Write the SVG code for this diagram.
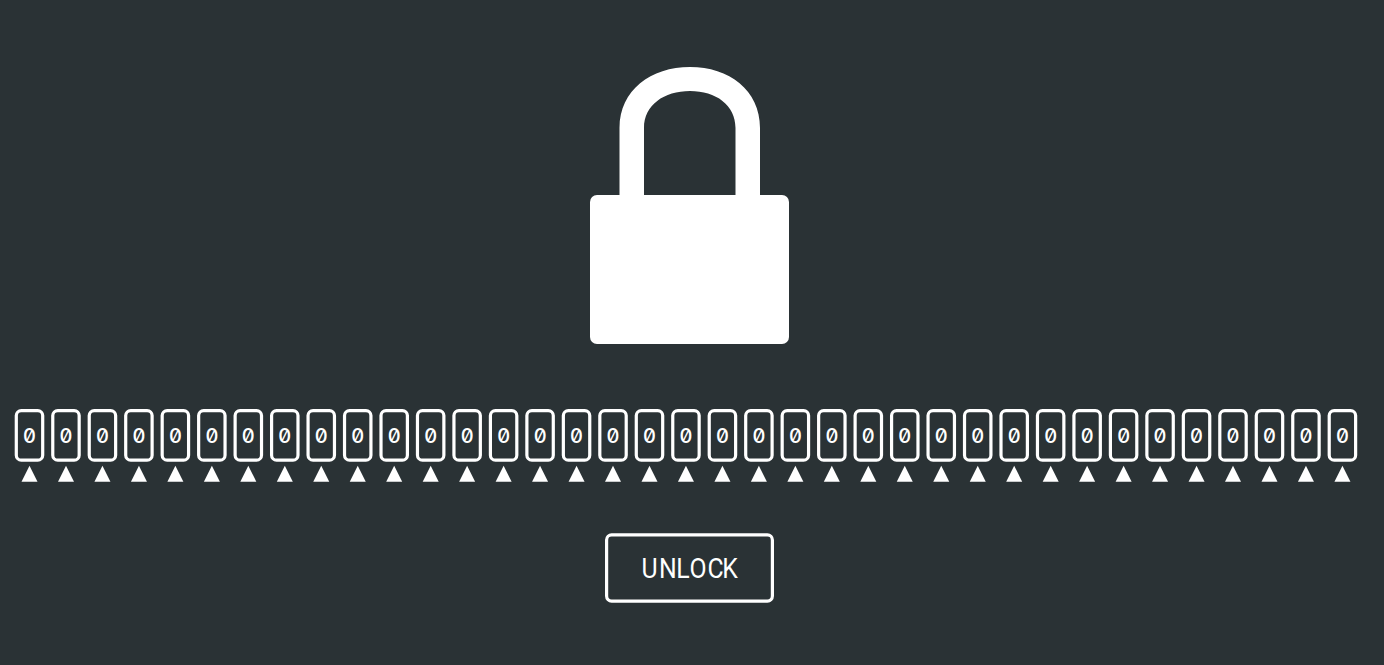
<svg xmlns="http://www.w3.org/2000/svg" width="1384" height="665" viewBox="0 0 1384 665">
<style>
.box{fill:none;stroke:#fff;stroke-width:3.2}
.up{fill:#fff}
.digit{font-family:"Inter","DejaVu Sans Mono",monospace;font-size:20px;font-weight:500;font-feature-settings:"zero" 1;fill:#fff;text-anchor:middle}
.label{font-family:"Roboto",sans-serif;font-size:27px;fill:#fff}
</style>
<defs>
<rect id="cell" class="box" x="-13.2" y="410.6" width="26.4" height="49.6" rx="5"/>
<path id="tri" class="up" d="M0 465.7L8 481.7H-8Z"/>
</defs>
<rect width="1384" height="665" fill="#2a3235"/>
<g id="lock">
<rect x="590" y="195" width="199" height="149" rx="7" fill="#fff"/>
<path fill="#fff" fill-rule="evenodd" d="M619.5 197V128C619.5 90 651 67 690 67S760 90 760 128V197H735.5V128C735.5 105 716 91 690 91S644 105 644 128V197Z"/>
</g>
<g id="dials">
<g id="dial-1" transform="translate(29.5 0)"><use href="#cell"/><text class="digit" y="443.3">0</text><use href="#tri"/></g>
<g id="dial-2" transform="translate(65.97 0)"><use href="#cell"/><text class="digit" y="443.3">0</text><use href="#tri"/></g>
<g id="dial-3" transform="translate(102.44 0)"><use href="#cell"/><text class="digit" y="443.3">0</text><use href="#tri"/></g>
<g id="dial-4" transform="translate(138.91 0)"><use href="#cell"/><text class="digit" y="443.3">0</text><use href="#tri"/></g>
<g id="dial-5" transform="translate(175.38 0)"><use href="#cell"/><text class="digit" y="443.3">0</text><use href="#tri"/></g>
<g id="dial-6" transform="translate(211.85 0)"><use href="#cell"/><text class="digit" y="443.3">0</text><use href="#tri"/></g>
<g id="dial-7" transform="translate(248.32 0)"><use href="#cell"/><text class="digit" y="443.3">0</text><use href="#tri"/></g>
<g id="dial-8" transform="translate(284.79 0)"><use href="#cell"/><text class="digit" y="443.3">0</text><use href="#tri"/></g>
<g id="dial-9" transform="translate(321.26 0)"><use href="#cell"/><text class="digit" y="443.3">0</text><use href="#tri"/></g>
<g id="dial-10" transform="translate(357.73 0)"><use href="#cell"/><text class="digit" y="443.3">0</text><use href="#tri"/></g>
<g id="dial-11" transform="translate(394.2 0)"><use href="#cell"/><text class="digit" y="443.3">0</text><use href="#tri"/></g>
<g id="dial-12" transform="translate(430.67 0)"><use href="#cell"/><text class="digit" y="443.3">0</text><use href="#tri"/></g>
<g id="dial-13" transform="translate(467.14 0)"><use href="#cell"/><text class="digit" y="443.3">0</text><use href="#tri"/></g>
<g id="dial-14" transform="translate(503.61 0)"><use href="#cell"/><text class="digit" y="443.3">0</text><use href="#tri"/></g>
<g id="dial-15" transform="translate(540.08 0)"><use href="#cell"/><text class="digit" y="443.3">0</text><use href="#tri"/></g>
<g id="dial-16" transform="translate(576.55 0)"><use href="#cell"/><text class="digit" y="443.3">0</text><use href="#tri"/></g>
<g id="dial-17" transform="translate(613.02 0)"><use href="#cell"/><text class="digit" y="443.3">0</text><use href="#tri"/></g>
<g id="dial-18" transform="translate(649.49 0)"><use href="#cell"/><text class="digit" y="443.3">0</text><use href="#tri"/></g>
<g id="dial-19" transform="translate(685.96 0)"><use href="#cell"/><text class="digit" y="443.3">0</text><use href="#tri"/></g>
<g id="dial-20" transform="translate(722.43 0)"><use href="#cell"/><text class="digit" y="443.3">0</text><use href="#tri"/></g>
<g id="dial-21" transform="translate(758.9 0)"><use href="#cell"/><text class="digit" y="443.3">0</text><use href="#tri"/></g>
<g id="dial-22" transform="translate(795.37 0)"><use href="#cell"/><text class="digit" y="443.3">0</text><use href="#tri"/></g>
<g id="dial-23" transform="translate(831.84 0)"><use href="#cell"/><text class="digit" y="443.3">0</text><use href="#tri"/></g>
<g id="dial-24" transform="translate(868.31 0)"><use href="#cell"/><text class="digit" y="443.3">0</text><use href="#tri"/></g>
<g id="dial-25" transform="translate(904.78 0)"><use href="#cell"/><text class="digit" y="443.3">0</text><use href="#tri"/></g>
<g id="dial-26" transform="translate(941.25 0)"><use href="#cell"/><text class="digit" y="443.3">0</text><use href="#tri"/></g>
<g id="dial-27" transform="translate(977.72 0)"><use href="#cell"/><text class="digit" y="443.3">0</text><use href="#tri"/></g>
<g id="dial-28" transform="translate(1014.19 0)"><use href="#cell"/><text class="digit" y="443.3">0</text><use href="#tri"/></g>
<g id="dial-29" transform="translate(1050.66 0)"><use href="#cell"/><text class="digit" y="443.3">0</text><use href="#tri"/></g>
<g id="dial-30" transform="translate(1087.13 0)"><use href="#cell"/><text class="digit" y="443.3">0</text><use href="#tri"/></g>
<g id="dial-31" transform="translate(1123.6 0)"><use href="#cell"/><text class="digit" y="443.3">0</text><use href="#tri"/></g>
<g id="dial-32" transform="translate(1160.07 0)"><use href="#cell"/><text class="digit" y="443.3">0</text><use href="#tri"/></g>
<g id="dial-33" transform="translate(1196.54 0)"><use href="#cell"/><text class="digit" y="443.3">0</text><use href="#tri"/></g>
<g id="dial-34" transform="translate(1233.01 0)"><use href="#cell"/><text class="digit" y="443.3">0</text><use href="#tri"/></g>
<g id="dial-35" transform="translate(1269.48 0)"><use href="#cell"/><text class="digit" y="443.3">0</text><use href="#tri"/></g>
<g id="dial-36" transform="translate(1305.95 0)"><use href="#cell"/><text class="digit" y="443.3">0</text><use href="#tri"/></g>
<g id="dial-37" transform="translate(1342.42 0)"><use href="#cell"/><text class="digit" y="443.3">0</text><use href="#tri"/></g>
</g>
<g id="unlock">
<rect class="box" x="606.6" y="534.9" width="165.8" height="66.2" rx="5"/>
<text class="label" transform="translate(690 578) scale(.92 1)" x="-52.8 -33.8 -15 -0.5 19 35" y="0">UNLOCK</text>
</g>
<g id="connectors"/>
</svg>
